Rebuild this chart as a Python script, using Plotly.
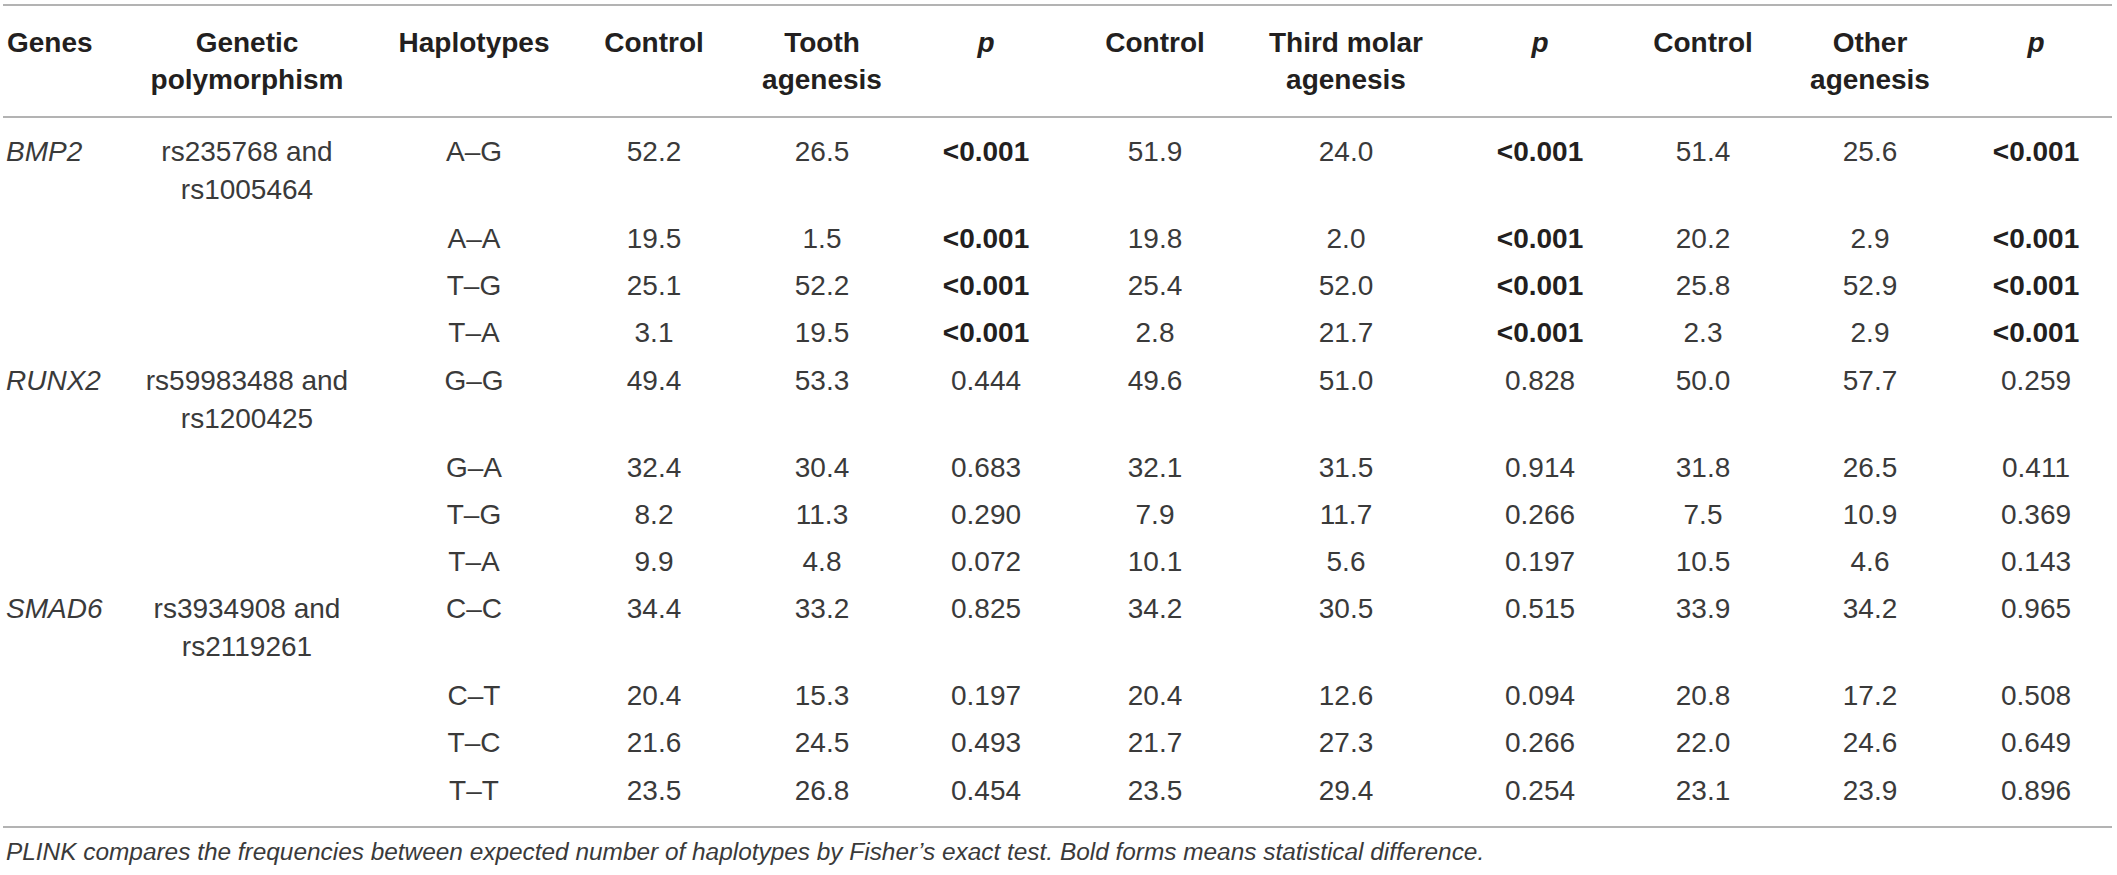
import plotly.graph_objects as go

# ---------------- data ----------------
genes = ["BMP2", "RUNX2", "SMAD6"]
polymorphisms = [["rs235768 and", "rs1005464"],
                 ["rs59983488 and", "rs1200425"],
                 ["rs3934908 and", "rs2119261"]]
haplotypes = [["A–G", "A–A", "T–G", "T–A"],
              ["G–G", "G–A", "T–G", "T–A"],
              ["C–C", "C–T", "T–C", "T–T"]]

control_tooth = [52.2, 19.5, 25.1, 3.1, 49.4, 32.4, 8.2, 9.9, 34.4, 20.4, 21.6, 23.5]
tooth_agenesis = [26.5, 1.5, 52.2, 19.5, 53.3, 30.4, 11.3, 4.8, 33.2, 15.3, 24.5, 26.8]
p_tooth = ["<0.001", "<0.001", "<0.001", "<0.001", "0.444", "0.683", "0.290", "0.072",
           "0.825", "0.197", "0.493", "0.454"]
control_third = [51.9, 19.8, 25.4, 2.8, 49.6, 32.1, 7.9, 10.1, 34.2, 20.4, 21.7, 23.5]
third_molar_agenesis = [24.0, 2.0, 52.0, 21.7, 51.0, 31.5, 11.7, 5.6, 30.5, 12.6, 27.3, 29.4]
p_third = ["<0.001", "<0.001", "<0.001", "<0.001", "0.828", "0.914", "0.266", "0.197",
           "0.515", "0.094", "0.266", "0.254"]
control_other = [51.4, 20.2, 25.8, 2.3, 50.0, 31.8, 7.5, 10.5, 33.9, 20.8, 22.0, 23.1]
other_agenesis = [25.6, 2.9, 52.9, 2.9, 57.7, 26.5, 10.9, 4.6, 34.2, 17.2, 24.6, 23.9]
p_other = ["<0.001", "<0.001", "<0.001", "<0.001", "0.259", "0.411", "0.369", "0.143",
           "0.965", "0.508", "0.649", "0.896"]

headers = [["Genes"], ["Genetic", "polymorphism"], ["Haplotypes"], ["Control"],
           ["Tooth", "agenesis"], ["p"], ["Control"], ["Third molar", "agenesis"], ["p"],
           ["Control"], ["Other", "agenesis"], ["p"]]
footnote = ("PLINK compares the frequencies between expected number of haplotypes by "
            "Fisher’s exact test. Bold forms means statistical difference.")

# ---------------- layout geometry ----------------
W, H = 2117, 875
col_x = [7, 247, 474, 654, 822, 986, 1155, 1346, 1540, 1703, 1870, 2036]
header_line_y = [45, 82]
first_row_y = 154
single_step = 47.2
double_step = 87
line_gap = 38
rule_y = [5, 117, 827]
foot_y = 851

FONT = "Liberation Sans, Arial, Helvetica, sans-serif"
BODY_COLOR = "#3a3a3a"
HEAD_COLOR = "#231f20"
FS = 28

# row y positions
row_y = []
y = first_row_y
for g in range(len(genes)):
    for h in range(len(haplotypes[g])):
        row_y.append(y)
        y += double_step if h == 0 else single_step

fig = go.Figure()


def add_text(xs, ys, texts, weight="normal", style="normal", color=BODY_COLOR,
             pos="middle center", size=FS):
    fig.add_trace(go.Scatter(
        x=xs, y=ys, text=texts, mode="text", textposition=pos,
        textfont=dict(family=FONT, size=size, color=color, weight=weight, style=style),
        hoverinfo="skip", showlegend=False, cliponaxis=False))


# headers
hx, hy, ht, hix, hiy, hit = [], [], [], [], [], []
for c, lines in enumerate(headers):
    for li, t in enumerate(lines):
        if t == "p":
            hix.append(col_x[c]); hiy.append(header_line_y[li]); hit.append(t)
        elif c == 0:
            pass
        else:
            hx.append(col_x[c]); hy.append(header_line_y[li]); ht.append(t)
add_text(hx, hy, ht, weight="bold", color=HEAD_COLOR)
add_text(hix, hiy, hit, weight="bold", style="italic", color=HEAD_COLOR)
add_text([col_x[0]], [header_line_y[0]], [headers[0][0]], weight="bold",
         color=HEAD_COLOR, pos="middle right")

# gene names (italic, left) and polymorphisms (two lines)
gy, px, py, pt = [], [], [], []
r = 0
for g in range(len(genes)):
    gy.append(row_y[r])
    for li, t in enumerate(polymorphisms[g]):
        px.append(col_x[1]); py.append(row_y[r] + li * line_gap); pt.append(t)
    r += len(haplotypes[g])
add_text([col_x[0] - 1] * len(genes), gy, genes, style="italic", pos="middle right")
add_text(px, py, pt)

# haplotypes
hap_flat = [h for grp in haplotypes for h in grp]
add_text([col_x[2]] * len(hap_flat), row_y, hap_flat)

# numeric columns
num_cols = [(3, control_tooth), (4, tooth_agenesis), (6, control_third),
            (7, third_molar_agenesis), (9, control_other), (10, other_agenesis)]
for c, vals in num_cols:
    add_text([col_x[c]] * len(vals), row_y, [f"{v:.1f}" for v in vals])


def is_sig(p):
    return p.startswith("<") or float(p) < 0.05


for c, ps in [(5, p_tooth), (8, p_third), (11, p_other)]:
    bx = [col_x[c] for p in ps if is_sig(p)]
    by = [yy for p, yy in zip(ps, row_y) if is_sig(p)]
    bt = [p for p in ps if is_sig(p)]
    nx = [col_x[c] for p in ps if not is_sig(p)]
    ny = [yy for p, yy in zip(ps, row_y) if not is_sig(p)]
    nt = [p for p in ps if not is_sig(p)]
    add_text(bx, by, bt, weight="bold", color=HEAD_COLOR)
    add_text(nx, ny, nt)

# rules
for ry in rule_y:
    fig.add_shape(type="line", x0=3, x1=2112, y0=ry, y1=ry, xref="x", yref="y",
                  line=dict(color="#9a9a9a", width=1.6))

fig.add_annotation(x=4, y=foot_y, xref="x", yref="y", text=footnote, showarrow=False,
                   xanchor="left", yanchor="middle",
                   font=dict(family=FONT, size=24.4, color=BODY_COLOR, style="italic"))

fig.update_layout(
    width=W, height=H, margin=dict(l=0, r=0, t=0, b=0),
    paper_bgcolor="white", plot_bgcolor="white",
    xaxis=dict(range=[0, W], visible=False, fixedrange=True),
    yaxis=dict(range=[H, 0], visible=False, fixedrange=True),
)

fig.write_html("out.html", config={"displayModeBar": False},
               post_script="document.body.style.margin='0';document.body.style.overflow='hidden';")
